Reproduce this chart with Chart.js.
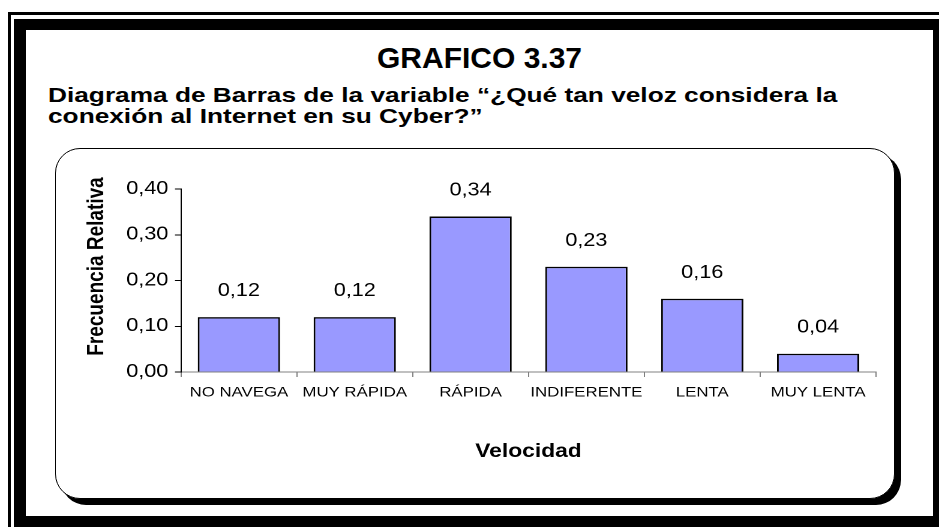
<!DOCTYPE html>
<html lang="es">
<head>
<meta charset="utf-8">
<title>GRAFICO 3.37</title>
<script src="https://cdn.jsdelivr.net/npm/chart.js@4.4.1/dist/chart.umd.min.js"></script>
<style>
  * { box-sizing: border-box; }
  body { margin: 0; background: #fff; font-family: "Liberation Sans", Arial, sans-serif; }
  #page { position: relative; width: 939px; height: 527px; overflow: hidden; background: #fff; }
  .marco-fino { position: absolute; left: 8px; top: 12px; width: 943px; height: 522px; border: 3px solid #000; }
  .marco-grueso { position: absolute; left: 14px; top: 19px; width: 931px; height: 508px; border-style: solid; border-color: #000; border-width: 11px 12px; }
  .caja { position: absolute; left: 55px; top: 148px; width: 840px; height: 351px; border: 1.5px solid #000; border-radius: 25px; background: #fff; box-shadow: 6px 6px 0 #000; }
  .titulo { position: absolute; left: 14px; width: 931px; top: 43px; text-align: center; font-weight: bold; font-size: 30px; line-height: 30px; }
  .subtitulo { position: absolute; left: 48px; top: 84px; font-weight: bold; font-size: 21px; line-height: 21px; white-space: nowrap; transform: scaleX(1.25); transform-origin: 0 0; }
  #grafico { position: absolute; left: 0; top: 0; width: 782px; height: 527px; transform: scaleX(1.2); transform-origin: 0 0; }
</style>
</head>
<body>
<div id="page">
  <div class="marco-fino"></div>
  <div class="marco-grueso"></div>
  <div class="titulo">GRAFICO 3.37</div>
  <div class="subtitulo">Diagrama de Barras de la variable “¿Qué tan veloz considera la<br>conexión al Internet en su Cyber?”</div>
  <div class="caja"></div>
  <div id="grafico"><canvas id="barras" width="782" height="527"></canvas></div>
</div>
<script>
// categorías y frecuencias relativas
const categorias = ['NO NAVEGA', 'MUY RÁPIDA', 'RÁPIDA', 'INDIFERENTE', 'LENTA', 'MUY LENTA'];
const frecuencias = [0.12, 0.12, 0.34, 0.23, 0.16, 0.04];
const marcasY = [0, 0.1, 0.2, 0.3, 0.4];
const tituloY = 'Frecuencia Relativa';

const fuente = '"Liberation Sans", Arial, sans-serif';
Chart.defaults.font.family = fuente;
Chart.defaults.color = '#000';

function coma(v) {
    return v.toFixed(2).replace('.', ',');
}

// valor encima de cada barra y título vertical del eje Y
const etiquetas = {
    id: 'etiquetas',
    afterDatasetsDraw(chart) {
        const ctx = chart.ctx;
        const meta = chart.getDatasetMeta(0);
        ctx.save();
        ctx.font = '18px ' + fuente;
        ctx.fillStyle = '#000';
        ctx.textAlign = 'center';
        ctx.textBaseline = 'alphabetic';
        meta.data.forEach(function(bar, i) {
            ctx.fillText(coma(frecuencias[i]), bar.x, bar.y - 21);
        });

        // el título queda algo más arriba del centro del eje
        const area = chart.chartArea;
        ctx.translate(area.left - 70, (area.top + area.bottom) / 2 - 14);
        ctx.rotate(-Math.PI / 2);
        ctx.font = 'bold 19px ' + fuente;
        ctx.textBaseline = 'middle';
        ctx.fillText(tituloY, 0, 0);
        ctx.restore();
    }
};

new Chart(document.getElementById('barras'), {
    type: 'bar',
    data: {
        labels: categorias,
        datasets: [{
            label: tituloY,
            data: frecuencias,
            backgroundColor: '#9999FF',
            borderColor: '#000',
            borderWidth: 1.5,
            barPercentage: 0.71,
            categoryPercentage: 1
        }]
    },
    plugins: [etiquetas],
    options: {
        responsive: false,
        animation: false,
        devicePixelRatio: 2,
        layout: { padding: { left: 60, right: 52, top: 189, bottom: 60 } },
        plugins: {
            legend: { display: false },
            tooltip: { enabled: false }
        },
        scales: {
            x: {
                grid: { drawOnChartArea: false, tickLength: 5, color: '#808080', offset: true },
                border: { color: '#808080', width: 1 },
                ticks: { font: { size: 14 }, padding: 7, maxRotation: 0, autoSkip: false },
                title: { display: true, text: 'Velocidad', font: { size: 19, weight: 'bold' }, padding: { top: 0, bottom: 3.6 } },
                afterFit: function(scale) { scale.height = 95; }
            },
            y: {
                min: marcasY[0],
                max: marcasY[marcasY.length - 1],
                grid: { drawOnChartArea: false, tickLength: 5, color: '#000' },
                border: { color: '#000', width: 1 },
                ticks: { stepSize: marcasY[1] - marcasY[0], font: { size: 18 }, padding: 5.5, callback: function(v) { return coma(v); } },
                afterFit: function(scale) { scale.width = 90.8; }
            }
        }
    }
});
</script>
</body>
</html>
